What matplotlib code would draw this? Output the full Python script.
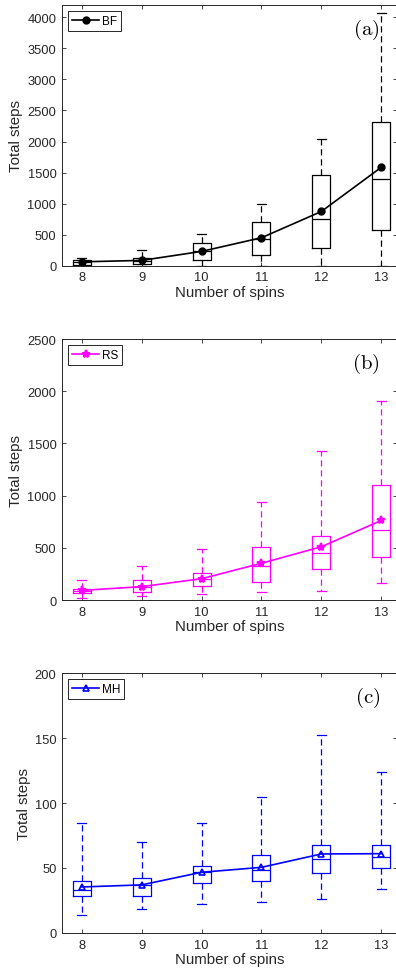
import matplotlib.pyplot as plt

plt.rcParams["font.family"] = ["Liberation Sans", "DejaVu Sans"]
plt.rcParams["mathtext.fontset"] = "cm"

spins = [8, 9, 10, 11, 12, 13]

# BF: box stats
bf_low = [0, 0, 0, 0, 0, 0]
bf_q1 = [15, 25, 97, 172, 280, 571]
bf_med = [60, 80, 230, 430, 755, 1401]
bf_q3 = [90, 130, 367, 700, 1455, 2318]
bf_high = [130, 250, 507, 987, 2048, 4070]
bf_mean = [62, 85, 230, 450, 873, 1585]

# RS
rs_low = [22, 35, 54, 73, 86, 163]
rs_q1 = [64, 73, 137, 169, 294, 409]
rs_med = [89, 120, 200, 329, 447, 667]
rs_q3 = [105, 195, 255, 508, 616, 1105]
rs_high = [195, 322, 485, 935, 1430, 1903]
rs_mean = [92, 128, 204, 352, 510, 762]

# MH
mh_low = [14.1, 18.2, 22, 24.1, 26.2, 34.1]
mh_q1 = [28.2, 28.2, 38.2, 40.3, 46.2, 50.3]
mh_med = [33.3, 36.7, 46.9, 48.2, 57.2, 58.2]
mh_q3 = [40.3, 42, 51.8, 60.3, 68, 68]
mh_high = [84.4, 70.3, 84.4, 104.4, 152.3, 124.1]
mh_mean = [35.4, 37, 46.7, 50.5, 60.8, 61]

panels = [
    ("BF", "black", "o", dict(ms=5, mfc="black"), bf_low, bf_q1, bf_med, bf_q3, bf_high, bf_mean,
     (0, 4200), [0, 500, 1000, 1500, 2000, 2500, 3000, 3500, 4000], "(a)"),
    ("RS", "#ff00ff", "*", dict(ms=6, mew=1.5), rs_low, rs_q1, rs_med, rs_q3, rs_high, rs_mean,
     (0, 2500), [0, 500, 1000, 1500, 2000, 2500], "(b)"),
    ("MH", "#0000ff", "^", dict(ms=5, mfc="none", mew=1.2), mh_low, mh_q1, mh_med, mh_q3, mh_high, mh_mean,
     (0, 200), [0, 50, 100, 150, 200], "(c)"),
]

fig = plt.figure(figsize=(3.96, 9.79), dpi=100)
bottoms = [0.7276, 0.3861, 0.046]
heights = [0.2663, 0.2666, 0.2655]
axis_col = "#262626"

for (name, col, mk, mkw, lo, q1, med, q3, hi, mean, ylim, yticks, tag), b, h in zip(panels, bottoms, heights):
    ax = fig.add_axes([0.1566, b, 0.847, h])
    stats = []
    for i in range(len(spins)):
        stats.append(dict(whislo=lo[i], q1=q1[i], med=med[i], q3=q3[i], whishi=hi[i], fliers=[]))
    ax.bxp(stats, positions=spins, widths=0.3, showfliers=False, manage_ticks=False,
           boxprops=dict(color=col, lw=0.9),
           medianprops=dict(color=col, lw=0.9),
           whiskerprops=dict(color=col, lw=0.9, linestyle=(0, (5, 3))),
           capprops=dict(color=col, lw=0.9), capwidths=0.15)
    ax.plot(spins, mean, color=col, marker=mk, lw=1.2, label=name, **mkw)
    ax.set_xlim(7.67, 13.27)
    ax.set_ylim(*ylim)
    ax.set_xticks(spins)
    ax.set_yticks(yticks)
    ax.tick_params(direction="in", top=True, right=True, labelsize=9.3, colors=axis_col,
                   length=3, width=0.6, pad=4)
    for s in ax.spines.values():
        s.set_color(axis_col)
        s.set_linewidth(0.7)
    ax.set_ylabel("Total steps", fontsize=10.8, color=axis_col, labelpad=3)
    ax.set_xlabel("Number of spins", fontsize=10.8, color=axis_col, labelpad=1)
    leg = ax.legend(loc="upper left", fontsize=8.5, handlelength=2.3, borderpad=0.35,
                    handletextpad=0.2, borderaxespad=0.5, fancybox=False, framealpha=1)
    leg.get_frame().set_edgecolor(axis_col)
    leg.get_frame().set_linewidth(0.7)
    ax.text(0.948, 0.955, r"$\mathrm{" + tag + "}$", transform=ax.transAxes,
            ha="right", va="top", fontsize=15)

fig.savefig("out.png", dpi=100)
